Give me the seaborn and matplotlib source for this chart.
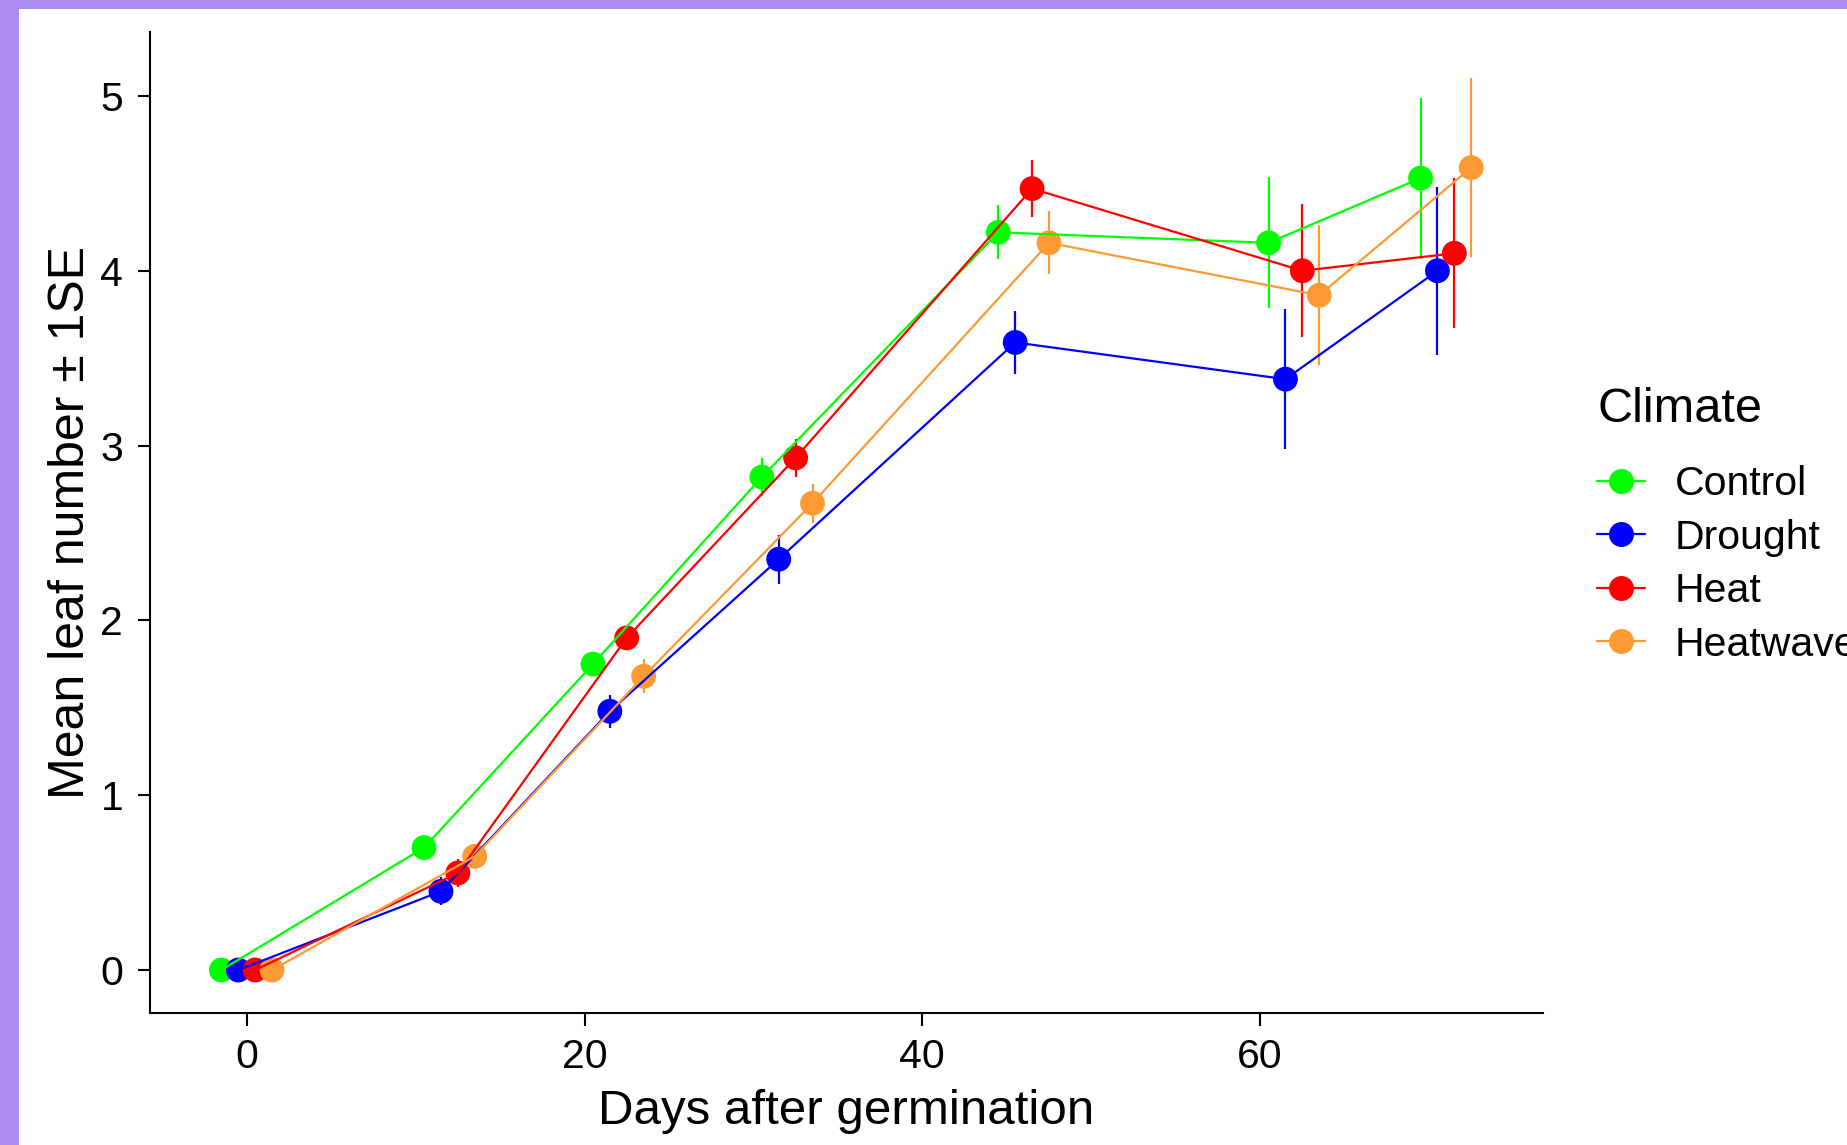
import numpy as np
import pandas as pd
import matplotlib
matplotlib.use("Agg")
import matplotlib.pyplot as plt
import seaborn as sns
from matplotlib.lines import Line2D
from matplotlib.patches import Rectangle

# ---- data: mean leaf number and standard error per climate treatment ----
days = [0, 12, 22, 32, 46, 62, 71]
climates = ["Control", "Drought", "Heat", "Heatwave"]

control_mean = [0.0, 0.70, 1.75, 2.82, 4.22, 4.16, 4.53]
control_se = [0.0, 0.05, 0.05, 0.11, 0.155, 0.375, 0.46]
drought_mean = [0.0, 0.45, 1.48, 2.35, 3.59, 3.38, 4.00]
drought_se = [0.0, 0.08, 0.095, 0.14, 0.18, 0.40, 0.48]
heat_mean = [0.0, 0.555, 1.90, 2.93, 4.47, 4.00, 4.10]
heat_se = [0.0, 0.08, 0.05, 0.11, 0.165, 0.38, 0.43]
heatwave_mean = [0.0, 0.65, 1.68, 2.67, 4.16, 3.86, 4.59]
heatwave_se = [0.0, 0.05, 0.097, 0.11, 0.18, 0.40, 0.51]

x_ticks = [0, 20, 40, 60]
y_ticks = [0, 1, 2, 3, 4, 5]

palette = {"Control": "#00FF00", "Drought": "#0000FF",
           "Heat": "#FF0000", "Heatwave": "#FF9933"}

means = {"Control": control_mean, "Drought": drought_mean,
         "Heat": heat_mean, "Heatwave": heatwave_mean}
ses = {"Control": control_se, "Drought": drought_se,
       "Heat": heat_se, "Heatwave": heatwave_se}

# dodge the four treatments side by side around each sampling day
dodge_width = 4.0
rows = []
for i, c in enumerate(climates):
    offset = (i - (len(climates) - 1) / 2) * dodge_width / len(climates)
    for d, m, s in zip(days, means[c], ses[c]):
        rows.append({"Climate": c, "day": d + offset, "mean": m,
                     "lo": m - s, "hi": m + s})
df = pd.DataFrame(rows)

# ---- style ----
sns.set_theme(style="ticks")
plt.rcParams["font.family"] = ["Liberation Sans", "DejaVu Sans"]
plt.rcParams["text.color"] = "black"

fig = plt.figure(figsize=(18.47, 11.45), dpi=100)
fig.patch.set_facecolor("white")

W, H = 1847, 1145
ax_left, ax_right, ax_top, ax_bottom = 149.6, 1543, 32, 1013
ax = fig.add_axes([ax_left / W, 1 - ax_bottom / H,
                   (ax_right - ax_left) / W, (ax_bottom - ax_top) / H])

lw = 1.6
# error bars (±1 SE)
for c in climates:
    sub = df[df["Climate"] == c]
    ax.vlines(sub["day"], sub["lo"], sub["hi"], color=palette[c],
              linewidth=lw, zorder=2)

sns.scatterplot(data=df, x="day", y="mean", hue="Climate", palette=palette,
                hue_order=climates, s=320, linewidth=0, legend=False,
                zorder=3, ax=ax)
sns.lineplot(data=df, x="day", y="mean", hue="Climate", palette=palette,
             hue_order=climates, estimator=None, linewidth=lw, legend=False,
             zorder=4, ax=ax)

ax.set_xlim(-5.75, 76.75)
ax.set_ylim(-0.246, 5.366)
ax.set_xticks(x_ticks)
ax.set_yticks(y_ticks)
ax.set_xticklabels([str(t) for t in x_ticks])
ax.set_yticklabels([str(t) for t in y_ticks])

for side in ["top", "right"]:
    ax.spines[side].set_visible(False)
for side in ["left", "bottom"]:
    ax.spines[side].set_color("black")
    ax.spines[side].set_linewidth(1.5)

ax.tick_params(axis="both", direction="out", length=9, width=1.5,
               color="black", labelcolor="black", labelsize=29.5)
ax.tick_params(axis="x", pad=9)
ax.tick_params(axis="y", pad=10)

ax.set_xlabel("Days after germination", fontsize=35.5, color="black")
ax.set_ylabel("Mean leaf number \u00b1 1SE", fontsize=36, color="black")
ax.xaxis.set_label_coords(0.5, -0.077)
ax.yaxis.set_label_coords(-0.040, 0.5)
ax.set_facecolor("white")

# legend
handles = [Line2D([0], [0], color=palette[c], linewidth=lw, marker="o",
                  markersize=18, markeredgewidth=0) for c in climates]
leg = ax.legend(handles, climates, title="Climate", loc="upper left",
                bbox_to_anchor=(1597 / W, 1 - 387 / H),
                bbox_transform=fig.transFigure, frameon=False,
                fontsize=29.5, title_fontsize=35, handlelength=1.17,
                handletextpad=0.72, labelspacing=0.38, borderpad=0,
                borderaxespad=0, alignment="left", labelcolor="black")
leg.get_title().set_color("black")
# extra room between the legend title and its entries
leg._legend_box.sep = 23.8

# page frame
fig.patches.append(Rectangle((0, 1 - 9 / H), 1, 9 / H, transform=fig.transFigure,
                             facecolor="#AC8EF2", edgecolor="none", zorder=10))
fig.patches.append(Rectangle((0, 0), 19 / W, 1, transform=fig.transFigure,
                             facecolor="#AC8EF2", edgecolor="none", zorder=10))

fig.savefig("out.png", dpi=100, facecolor="white")
